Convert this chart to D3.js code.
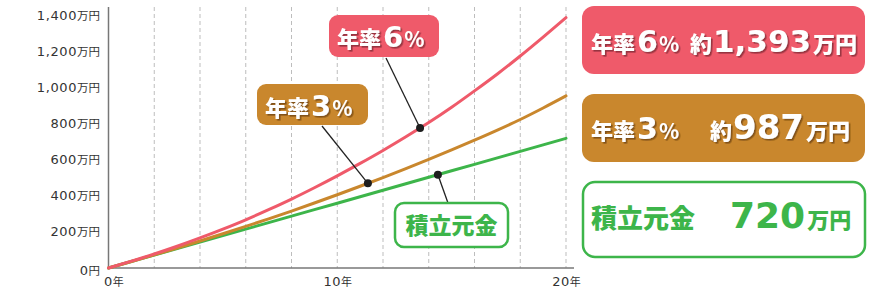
<!DOCTYPE html>
<html><head><meta charset="utf-8">
<script src="https://cdn.jsdelivr.net/npm/d3@7"></script>
<style>
html,body{margin:0;padding:0;background:#fff;}
svg{display:block;font-family:"Noto Sans CJK JP","Noto Sans",sans-serif;}
</style></head>
<body><svg id="c" width="871" height="291"></svg>
<script>
// ---- data ----
const years     = [0,1,2,3,4,5,6,7,8,9,10,11,12,13,14,15,16,17,18,19,20];
const rate6     = [0,38,78,121,167,216,268,324,383,446,512,581,653,729,808,893,984,1078,1178,1283,1391];
const rate3     = [0,36,73,111,150,190,231,273,316,361,407,454,502,552,603,656,710,766,825,889,956];
const principal = [0,36,72,108,144,180,216,252,288,324,360,396,432,468,504,540,576,612,648,684,720];
const yTicks    = [0,200,400,600,800,1000,1200,1400];
const xTicks    = [0,10,20];
const gridYears = [2,4,6,8,10,12,14,16,18,20];
const seriesNames  = ["積立元金","年率3%","年率6%"];
const seriesColors = ["#3db54a","#c9872d","#ef5a6a"];
const dotYears     = [14.4,11.34,13.62];
const totals       = ["720","987","1,393"];

const NUM = "'DejaVu Sans',sans-serif";
const JP  = "'Noto Sans CJK JP',sans-serif";

const svg = d3.select("#c");
const x = d3.scaleLinear().domain([0,20]).range([108.5,566]);
const y = d3.scaleLinear().domain([0,1400]).range([268,16]);

const defs = svg.append("defs");
function shadow(id,color){
  defs.append("filter").attr("id",id).attr("x","-20%").attr("y","-20%").attr("width","140%").attr("height","140%")
    .append("feDropShadow").attr("dx",1.6).attr("dy",1.6).attr("stdDeviation",0.2)
    .attr("flood-color",color).attr("flood-opacity",0.75);
}
shadow("shR","#7a2630");
shadow("shB","#6b4210");

// grid lines
svg.append("g").selectAll("line").data(gridYears).join("line")
  .attr("x1",d=>x(d)).attr("x2",d=>x(d)).attr("y1",7).attr("y2",y(0))
  .attr("stroke","#bdbdbd").attr("stroke-width",1).attr("stroke-dasharray","4,3");

// axes
const ya = svg.append("g").attr("transform",`translate(${x(0)},0)`)
  .call(d3.axisLeft(y).tickValues(yTicks).tickSize(0).tickPadding(8.5));
ya.select(".domain").remove();
ya.selectAll("text").attr("fill","#333")
  .each(function(d){
    const t=d3.select(this); t.text(null);
    t.append("tspan").style("font-family",NUM).style("font-size","13px").style("letter-spacing","0.6px").text(d3.format(",")(d));
    t.append("tspan").style("font-family",JP).style("font-size","11.5px").text(d===0?"円":"万円");
    if(d===0) t.attr("dy","0.6em");
  });
svg.append("line").attr("x1",x(0)).attr("x2",x(0)).attr("y1",7).attr("y2",y(0))
  .attr("stroke","#777").attr("stroke-width",1.5);

const xa = svg.append("g").attr("transform",`translate(0,${y(0)})`)
  .call(d3.axisBottom(x).tickValues(xTicks).tickSize(0).tickPadding(11));
xa.select(".domain").remove();
xa.selectAll("text").attr("fill","#333")
  .each(function(d){
    const t=d3.select(this); t.text(null);
    t.append("tspan").style("font-family",NUM).style("font-size","13px").style("letter-spacing","0.5px").text(d);
    t.append("tspan").style("font-family",JP).style("font-size","11px").text("年");
    if(d===0) t.attr("text-anchor","start").attr("x",-5);
  });
svg.append("line").attr("x1",x(0)).attr("x2",574).attr("y1",y(0)).attr("y2",y(0))
  .attr("stroke","#777").attr("stroke-width",1.5);

// lines
const allSeries = [principal, rate3, rate6];
const line = d3.line().x((d,i)=>x(years[i])).y(d=>y(d)).curve(d3.curveMonotoneX);
svg.append("g").selectAll("path").data(allSeries).join("path")
  .attr("d",line).attr("fill","none")
  .attr("stroke",(d,i)=>seriesColors[i]).attr("stroke-width",3).attr("stroke-linecap","round");

function valueAt(arr,yr){
  const i=Math.floor(yr); const f=yr-i;
  return arr[i]+(arr[Math.min(i+1,arr.length-1)]-arr[i])*f;
}

// callouts
const callouts = [
  {s:2, bx:329, by:15, bw:110, bh:42, lx:386, ly:58, tx:337},
  {s:1, bx:257, by:84, bw:111, bh:41, lx:322, ly:126, tx:265},
  {s:0, bx:395, by:203, bw:113, bh:44, lx:448, ly:203, tx:403}
];
const cg = svg.append("g");
callouts.forEach(c=>{
  const px=x(dotYears[c.s]), py=y(valueAt(allSeries[c.s],dotYears[c.s]));
  cg.append("line").attr("x1",c.lx).attr("y1",c.ly).attr("x2",px).attr("y2",py)
    .attr("stroke","#222").attr("stroke-width",1.3);
  cg.append("circle").attr("cx",px).attr("cy",py).attr("r",4).attr("fill","#1e1e1e");
  const col=seriesColors[c.s];
  if(c.s===0){
    cg.append("rect").attr("x",c.bx).attr("y",c.by).attr("width",c.bw).attr("height",c.bh)
      .attr("rx",9).attr("fill","#fff").attr("stroke",col).attr("stroke-width",2.5);
    cg.append("text").attr("x",c.bx+c.bw/2).attr("y",c.by+31).attr("text-anchor","middle")
      .attr("fill",col).style("font-family",JP).style("font-size","23px").style("font-weight",900).text(seriesNames[0]);
  } else {
    cg.append("rect").attr("x",c.bx).attr("y",c.by).attr("width",c.bw).attr("height",c.bh)
      .attr("rx",9).attr("fill",col);
    const t=cg.append("text").attr("x",c.tx).attr("y",c.by+32).attr("fill","#fff")
      .attr("filter",c.s===2?"url(#shR)":"url(#shB)");
    const nm=seriesNames[c.s];
    t.append("tspan").style("font-family",JP).style("font-size","22px").style("font-weight",900).text(nm.slice(0,2));
    t.append("tspan").attr("dx",2).style("font-family",NUM).style("font-size","29px").style("font-weight",700).text(nm.slice(2,3));
    t.append("tspan").attr("dx",1).style("font-family",JP).style("font-size","21px").style("font-weight",700).text("%");
  }
});

// right summary boxes
const boxes = [
  {s:2, y:6,  h:68, base:52,  yx:690},
  {s:1, y:94, h:68, base:139, yx:710},
  {s:0, y:182,h:75, base:228, yx:730}
];
const rg = svg.append("g");
boxes.forEach(b=>{
  const col=seriesColors[b.s];
  if(b.s===0){
    rg.append("rect").attr("x",583).attr("y",b.y).attr("width",282).attr("height",b.h)
      .attr("rx",12).attr("fill","#fff").attr("stroke",col).attr("stroke-width",2.5);
    rg.append("text").attr("x",591).attr("y",b.base).attr("fill",col)
      .style("font-family",JP).style("font-size","26px").style("font-weight",900).text(seriesNames[0]);
    const t=rg.append("text").attr("x",b.yx).attr("y",b.base).attr("fill",col);
    t.append("tspan").style("font-family",NUM).style("font-size","36px").style("font-weight",700).text(totals[0]);
    t.append("tspan").attr("dx",2).style("font-family",JP).style("font-size","22px").style("font-weight",900).text("万円");
  } else {
    rg.append("rect").attr("x",582).attr("y",b.y).attr("width",283).attr("height",b.h)
      .attr("rx",12).attr("fill",col);
    const f=b.s===2?"url(#shR)":"url(#shB)";
    const nm=seriesNames[b.s];
    const t=rg.append("text").attr("x",591).attr("y",b.base).attr("fill","#fff").attr("filter",f);
    t.append("tspan").style("font-family",JP).style("font-size","22px").style("font-weight",900).text(nm.slice(0,2));
    t.append("tspan").attr("dx",2).style("font-family",NUM).style("font-size","30px").style("font-weight",700).text(nm.slice(2,3));
    t.append("tspan").attr("dx",1).style("font-family",JP).style("font-size","21px").style("font-weight",700).text("%");
    const t2=rg.append("text").attr("x",b.yx).attr("y",b.base).attr("fill","#fff").attr("filter",f);
    t2.append("tspan").style("font-family",JP).style("font-size","22px").style("font-weight",900).text("約");
    t2.append("tspan").attr("dx",1).style("font-family",NUM).style("font-size",b.s===2?"31px":"34px").style("font-weight",700).text(totals[b.s]);
    t2.append("tspan").attr("dx",2).style("font-family",JP).style("font-size","22px").style("font-weight",900).text("万円");
  }
});
</script></body></html>
